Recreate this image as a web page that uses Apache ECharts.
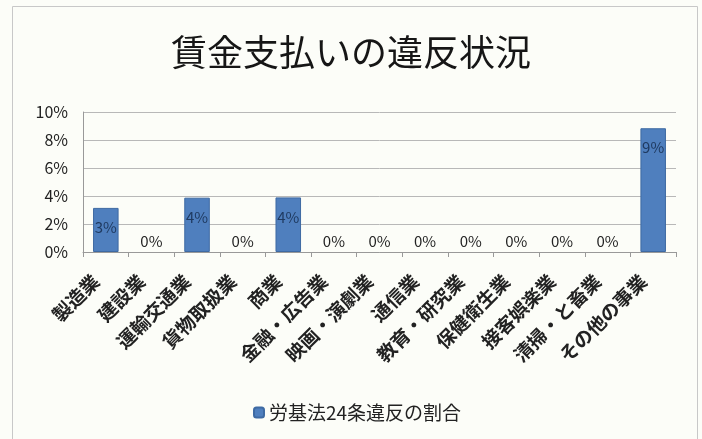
<!DOCTYPE html>
<html><head><meta charset="utf-8">
<script src="https://cdn.jsdelivr.net/npm/echarts@6/dist/echarts.min.js"></script>
<style>html,body{margin:0;padding:0;background:#fcfdf8;}#c{width:702px;height:439px;}</style>
</head><body><div id="c"></div>
<script>
const title = '賃金支払いの違反状況';
const seriesName = '労基法24条違反の割合';
const categories = ['製造業','建設業','運輸交通業','貨物取扱業','商業','金融・広告業','映画・演劇業','通信業','教育・研究業','保健衛生業','接客娯楽業','清掃・と畜業','その他の事業'];
const values = [3.15, 0, 3.88, 0, 3.9, 0, 0, 0, 0, 0, 0, 0, 8.84];
const yTicks = [0, 2, 4, 6, 8, 10];

const font = '"Noto Sans CJK JP", "Noto Sans", sans-serif';
const chart = echarts.init(document.getElementById('c'), null, {renderer: 'canvas'});
const data = values.map(v => ({
  value: v,
  itemStyle: v > 0 ? {} : {borderWidth: 0},
  label: v > 0 ? {position: 'insideTop', distance: 12, color: '#1f3a60'} : {position: 'top', distance: 3, color: '#222'}
}));
chart.setOption({
  backgroundColor: '#fcfdf8',
  animation: false,
  graphic: [{type: 'rect', shape: {x: 12.5, y: 6.5, width: 685, height: 440}, style: {fill: 'none', stroke: '#c8c8c8', lineWidth: 1}}],
  title: {text: title, left: 'center', top: 29, textStyle: {fontFamily: font, fontSize: 36, fontWeight: 'normal', color: '#161616'}},
  legend: {top: 398, left: 248, itemWidth: 10, itemHeight: 10, itemGap: 5,
    textStyle: {fontFamily: font, fontSize: 19, color: '#222'}, data: [seriesName]},
  grid: {left: 83, right: 26, top: 112, bottom: 187, containLabel: false},
  xAxis: {type: 'category', data: categories,
    axisLine: {lineStyle: {color: '#999'}},
    axisTick: {show: true, alignWithLabel: false, length: 5, lineStyle: {color: '#999'}},
    axisLabel: {rotate: 45, interval: 0, margin: 16, padding: [0, 14, 0, 0], fontFamily: font, fontSize: 19, fontWeight: 'bold', color: '#222'}},
  yAxis: {type: 'value', min: 0, max: 10, interval: 2,
    axisLine: {show: true, lineStyle: {color: '#999'}},
    axisTick: {show: false},
    splitLine: {lineStyle: {color: '#b8b8b8'}},
    axisLabel: {formatter: v => yTicks.includes(v) ? v + '%' : '', margin: 15, fontFamily: font, fontSize: 16, color: '#222'}},
  series: [{name: seriesName, type: 'bar', data: data, barCategoryGap: '44%',
    itemStyle: {color: '#4f7fbe', borderColor: '#3e6aa3', borderWidth: 1},
    label: {show: true, fontFamily: font, fontSize: 15, formatter: p => Math.round(p.value) + '%'}}]
});
</script></body></html>
